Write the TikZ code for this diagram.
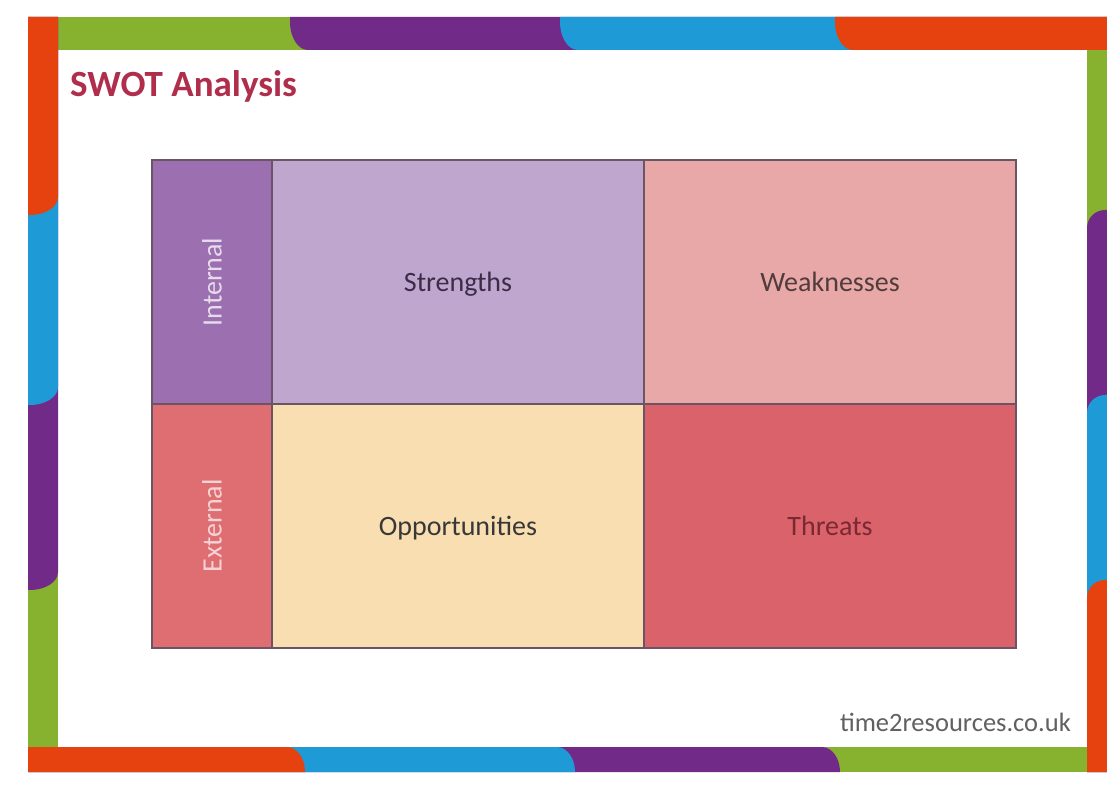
\documentclass[tikz,border=0pt]{standalone}
\usepackage{fontspec}
\setmainfont{Carlito}
\usetikzlibrary{positioning}

% frame colours
\definecolor{bgreen}{HTML}{86B22F}
\definecolor{bpurple}{HTML}{722A88}
\definecolor{bblue}{HTML}{1E9AD6}
\definecolor{bred}{HTML}{E5420F}
% grid colours
\definecolor{cInt}{HTML}{9B6FB0}
\definecolor{cStr}{HTML}{BFA6CF}
\definecolor{cWeak}{HTML}{E8A8A8}
\definecolor{cExt}{HTML}{DE6E72}
\definecolor{cOpp}{HTML}{F8DEB0}
\definecolor{cThr}{HTML}{DA626A}
\definecolor{cellline}{HTML}{6B5565}
\definecolor{titlecol}{HTML}{B02E4C}
\definecolor{thrtext}{HTML}{7A2832}

\begin{document}
\begin{tikzpicture}[%
    x=1pt, y=1pt,             % one unit per pixel
    node distance=0pt,        % grid cells sit edge to edge
    ]
% -------------------------------------------------
% Box styles
\tikzset{
  cell/.style={draw=cellline, line width=1.5pt, outer sep=0pt, inner sep=0pt,
    minimum width=372pt, minimum height=244pt, text depth=0pt,
    font=\fontsize{28}{30}\selectfont},
  side/.style={cell, minimum width=120pt},
  % headings
  ttl/.style={inner sep=0pt, text=titlecol, font=\fontsize{37}{40}\selectfont\bfseries},
  foot/.style={inner sep=0pt, text=black!62, font=\fontsize{26.5}{28}\selectfont},
}
\fill[white] (0,0) rectangle (1107,784);
\useasboundingbox (0,0) rectangle (1107,784);
% -------------------------------------------------
% The coloured frame: a green base on each side, then the
% rounded segments laid over it one after the other
% top
\fill[bgreen] (58,734) rectangle (1107,767);
\foreach \x/\c in {290/bpurple, 560/bblue, 835/bred}
  \fill[\c] (1107,767) -- (\x,767) -- (\x,762)
    arc[start angle=180, end angle=270, x radius=18, y radius=28]
    -- (1107,734) -- cycle;
% left
\fill[bgreen] (28,37) rectangle (58,767);
\foreach \y/\c in {194/bpurple, 379/bblue, 569/bred}
  \fill[\c] (28,767) -- (58,767) -- (58,\y+18)
    arc[start angle=0, end angle=-90, x radius=28, y radius=18]
    -- (28,\y) -- cycle;
% right
\fill[bgreen] (1087,12) rectangle (1107,734);
\foreach \y/\c in {574/bpurple, 389/bblue, 204/bred}
  \fill[\c] (1107,12) -- (1107,\y) -- (1105,\y)
    arc[start angle=90, end angle=180, x radius=18, y radius=18]
    -- (1087,12) -- cycle;
% bottom
\fill[bgreen] (28,12) rectangle (1087,37);
\foreach \x/\c in {840/bpurple, 575/bblue, 305/bred}
  \fill[\c] (28,12) -- (28,37) -- (\x-18,37)
    arc[start angle=90, end angle=0, x radius=18, y radius=25]
    -- (\x,12) -- cycle;
% -------------------------------------------------
% Headings
\node [ttl, anchor=base west] (title) at (70,687) {SWOT Analysis};
\node [foot, anchor=base east] (site) at (1071,53) {time2resources.co.uk};
% -------------------------------------------------
% The SWOT grid
\node [side, fill=cInt, text=cInt!25] (int) at (212,502) {\rotatebox{90}{Internal}};
\node [cell, fill=cStr, text=black!60!cInt, right=of int] (str) {Strengths};
\node [cell, fill=cWeak, text=black!65!cWeak, right=of str] (weak) {Weaknesses};
\node [side, fill=cExt, text=cExt!30, below=of int] (ext) {\rotatebox{90}{External}};
\node [cell, fill=cOpp, text=black!78, right=of ext] (opp) {Opportunities};
\node [cell, fill=cThr, text=thrtext, right=of opp] (thr) {Threats};
% -------------------------------------------------
\end{tikzpicture}
\end{document}
